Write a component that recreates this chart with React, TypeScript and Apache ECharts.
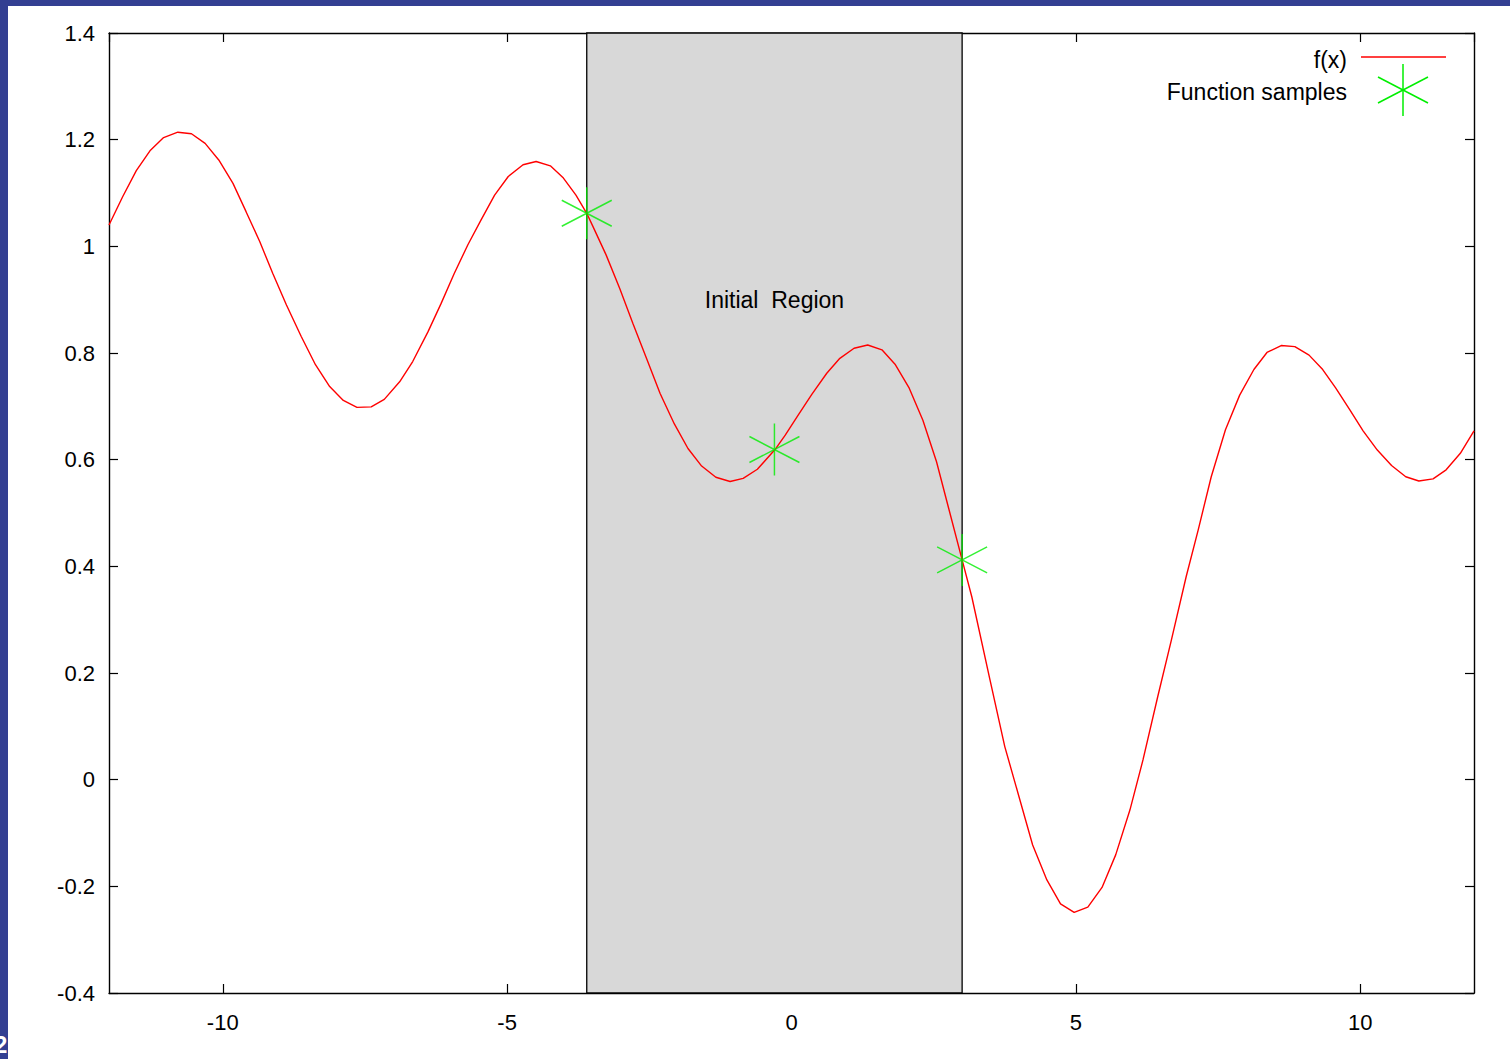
import React, { useEffect, useRef } from "react";
import * as echarts from "echarts";

const curveX = [
  -12, -11.76, -11.52, -11.28, -11.04, -10.79, -10.55, -10.31, -10.07, -9.82,
  -9.59, -9.35, -9.12, -8.88, -8.62, -8.37, -8.12, -7.88, -7.64, -7.39,
  -7.16, -6.89, -6.66, -6.39, -6.16, -5.93, -5.69, -5.46, -5.22, -4.98,
  -4.72, -4.49, -4.24, -4.01, -3.79, -3.6, -3.49, -3.26, -3.02, -2.79,
  -2.55, -2.31, -2.06, -1.82, -1.58, -1.33, -1.08, -0.85, -0.6, -0.29,
  -0.11, 0.12, 0.36, 0.62, 0.85, 1.1, 1.34, 1.59, 1.82, 2.07,
  2.31, 2.55, 2.77, 3.0, 3.17, 3.49, 3.75, 4.0, 4.24, 4.49,
  4.73, 4.97, 5.21, 5.46, 5.7, 5.95, 6.18, 6.44, 6.68, 6.94,
  7.15, 7.38, 7.63, 7.88, 8.13, 8.36, 8.61, 8.85, 9.1, 9.34,
  9.57, 9.82, 10.05, 10.3, 10.55, 10.8, 11.03, 11.28, 11.51, 11.76, 12.0,
];
const curveY = [
  1.04, 1.093, 1.142, 1.179, 1.204, 1.214, 1.211, 1.193, 1.162, 1.118,
  1.065, 1.009, 0.949, 0.89, 0.831, 0.778, 0.737, 0.711, 0.698, 0.699,
  0.713, 0.746, 0.784, 0.84, 0.893, 0.949, 1.003, 1.049, 1.096, 1.131,
  1.153, 1.159, 1.151, 1.128, 1.096, 1.062, 1.037, 0.984, 0.921, 0.856,
  0.79, 0.724, 0.667, 0.621, 0.588, 0.567, 0.559, 0.565, 0.582, 0.619,
  0.646, 0.684, 0.723, 0.762, 0.79, 0.809, 0.815, 0.806, 0.779, 0.734,
  0.674, 0.596, 0.506, 0.412, 0.343, 0.187, 0.062, -0.032, -0.1225, -0.188,
  -0.233, -0.249, -0.239, -0.202, -0.141, -0.057, 0.037, 0.156, 0.262, 0.381,
  0.468, 0.568, 0.656, 0.721, 0.769, 0.801, 0.814, 0.812, 0.796, 0.769,
  0.734, 0.693, 0.654, 0.618, 0.589, 0.568, 0.56, 0.564, 0.581, 0.612, 0.654,
];

const sampleX = [-3.6, -0.3, 3.0];
const sampleY = [1.062, 0.619, 0.412];

const regionStart = -3.6;
const regionEnd = 3.0;
const regionLabelX = -0.3;
const regionLabelY = 0.9;
const regionLabel = "Initial  Region";

const legendNames = ["f(x)", "Function samples"];

const FONT = "'Liberation Sans', Arial, sans-serif";
const STAR = "path://M25,0L25,52M0,13L50,39M0,39L50,13";
const GREEN = "#00ee00";
const BLUE = "#333f92";

export default function App() {
  const ref = useRef<HTMLDivElement>(null);
  useEffect(() => {
    if (!ref.current) return;
    const chart = echarts.init(ref.current, null, { renderer: "svg" });
    const axisLine = { show: true, onZero: false, lineStyle: { color: "#000", width: 1.4 } };
    const tick = { show: true, inside: true, length: 9, lineStyle: { color: "#000", width: 1.2 } };
    chart.setOption({
      animation: false,
      backgroundColor: "#fff",
      grid: { left: 109, right: 36, top: 33, bottom: 66 },
      xAxis: [
        {
          type: "value",
          min: -12,
          max: 12,
          splitNumber: 5,
          position: "bottom",
          axisLine,
          axisTick: tick,
          splitLine: { show: false },
          axisLabel: {
            color: "#000",
            fontSize: 22,
            fontFamily: FONT,
            margin: 18,
            showMinLabel: false,
            showMaxLabel: false,
          },
        },
        {
          type: "value",
          min: -12,
          max: 12,
          splitNumber: 5,
          position: "top",
          axisLine,
          axisTick: tick,
          splitLine: { show: false },
          axisLabel: { show: false },
        },
      ],
      yAxis: [
        {
          type: "value",
          min: -0.4,
          max: 1.4,
          interval: 0.2,
          position: "left",
          axisLine,
          axisTick: tick,
          splitLine: { show: false },
          axisLabel: { color: "#000", fontSize: 22, fontFamily: FONT, margin: 14 },
        },
        {
          type: "value",
          min: -0.4,
          max: 1.4,
          interval: 0.2,
          position: "right",
          axisLine,
          axisTick: tick,
          splitLine: { show: false },
          axisLabel: { show: false },
        },
      ],
      series: [
        {
          type: "line",
          name: "region",
          data: [],
          silent: true,
          markArea: {
            silent: true,
            itemStyle: { color: "#d8d8d8", borderColor: "#000", borderWidth: 1.3 },
            data: [[{ xAxis: regionStart }, { xAxis: regionEnd }]],
          },
          markPoint: {
            silent: true,
            symbol: "circle",
            symbolSize: 1,
            itemStyle: { color: "rgba(0,0,0,0)" },
            label: {
              show: true,
              position: "inside",
              formatter: regionLabel,
              color: "#000",
              fontSize: 23,
              fontFamily: FONT,
            },
            data: [{ coord: [regionLabelX, regionLabelY] }],
          },
        },
        {
          type: "line",
          name: legendNames[0],
          data: curveX.map((x, i) => [x, curveY[i]]),
          showSymbol: false,
          symbol: "none",
          lineStyle: { color: "#ff0000", width: 1.4 },
          z: 3,
        },
        {
          type: "scatter",
          name: legendNames[1],
          data: sampleX.map((x, i) => [x, sampleY[i]]),
          symbol: STAR,
          symbolSize: [50, 52],
          itemStyle: { color: "rgba(0,0,0,0)", borderColor: GREEN, borderWidth: 1.5 },
          z: 4,
        },
      ],
      graphic: [
        { type: "rect", left: 0, top: 0, shape: { x: 0, y: 0, width: 8, height: 1059 }, style: { fill: BLUE } },
        { type: "rect", left: 0, top: 0, shape: { x: 0, y: 0, width: 1510, height: 6 }, style: { fill: BLUE } },
        {
          type: "text",
          x: -6,
          y: 1032,
          style: { text: "2", fill: "#fff", font: `bold 24px ${FONT}` },
        },
        {
          type: "text",
          x: 1347,
          y: 60,
          style: { text: legendNames[0], fill: "#000", font: `23px ${FONT}`, align: "right", verticalAlign: "middle" },
        },
        {
          type: "line",
          shape: { x1: 1361, y1: 57, x2: 1446, y2: 57 },
          style: { stroke: "#ff0000", lineWidth: 1.4 },
        },
        {
          type: "text",
          x: 1347,
          y: 92,
          style: { text: legendNames[1], fill: "#000", font: `23px ${FONT}`, align: "right", verticalAlign: "middle" },
        },
        { type: "line", shape: { x1: 1403, y1: 64, x2: 1403, y2: 116 }, style: { stroke: GREEN, lineWidth: 1.5 } },
        { type: "line", shape: { x1: 1378, y1: 77, x2: 1428, y2: 103 }, style: { stroke: GREEN, lineWidth: 1.5 } },
        { type: "line", shape: { x1: 1378, y1: 103, x2: 1428, y2: 77 }, style: { stroke: GREEN, lineWidth: 1.5 } },
      ],
    });
    return () => chart.dispose();
  }, []);
  return (
    <div
      ref={ref}
      style={{ position: "absolute", left: 0, top: 0, width: 1510, height: 1059 }}
    />
  );
}
